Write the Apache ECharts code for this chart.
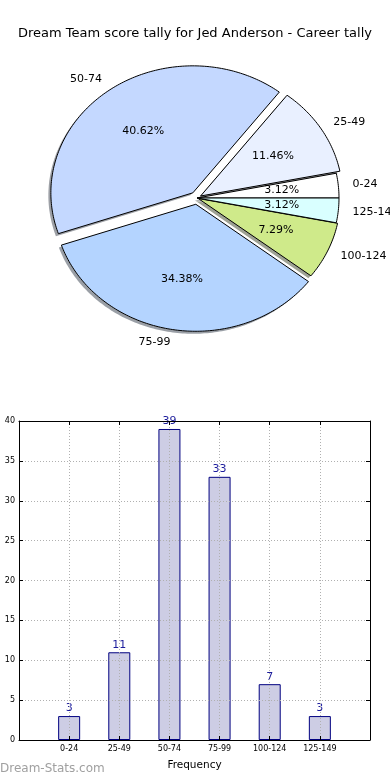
<!DOCTYPE html>
<html><head><meta charset="utf-8">
<script src="https://cdn.jsdelivr.net/npm/echarts@6/dist/echarts.min.js"></script>
<style>html,body{margin:0;padding:0;background:#fff}#c{width:390px;height:780px}</style>
</head><body><div id="c"></div>
<script>
const titleText = 'Dream Team score tally for Jed Anderson - Career tally';
const categories = ['0-24', '25-49', '50-74', '75-99', '100-124', '125-149'];
const counts = [3, 11, 39, 33, 7, 3];
const pieColors = ['#ffffff', '#e9f0ff', '#c4d8ff', '#b4d4ff', '#cfea8a', '#d9ffff'];
const explode = [0, 0.03, 0.05, 0.05, 0.01, 0];
const xAxisName = 'Frequency';
const watermark = 'Dream-Stats.com';

const FONT = 'DejaVu Sans';
const total = counts.reduce((a, b) => a + b, 0);
const cum = [0];
counts.forEach((v, i) => cum.push(cum[i] + v));

// pie layout (pixels)
const PC = [197, 198], RX = 142, RY = 127, PIE_H = 400;
const SH = [-2.5, 2.5];

function wedgePoints(api, i, shift) {
  const a0 = cum[i] / total * 2 * Math.PI, a1 = cum[i + 1] / total * 2 * Math.PI;
  const am = (a0 + a1) / 2;
  const cx = explode[i] * Math.cos(am), cy = explode[i] * Math.sin(am);
  const pts = [api.coord([cx, cy])];
  const n = Math.max(4, Math.ceil((a1 - a0) / (Math.PI / 180)));
  for (let k = 0; k <= n; k++) {
    const a = a0 + (a1 - a0) * k / n;
    pts.push(api.coord([cx + Math.cos(a), cy + Math.sin(a)]));
  }
  return shift ? pts.map(p => [p[0] + shift[0], p[1] + shift[1]]) : pts;
}

function hexShade(hex, f) {
  const n = parseInt(hex.slice(1), 16);
  const r = Math.round(((n >> 16) & 255) * f), g = Math.round(((n >> 8) & 255) * f), b = Math.round((n & 255) * f);
  return 'rgba(' + r + ',' + g + ',' + b + ',0.5)';
}

// percent with round-half-even (as printf does for exact ties)
function pctText(v) {
  const x = v * 10000 / total;
  const f = Math.floor(x), d = x - f;
  let r;
  if (Math.abs(d - 0.5) < 1e-9) r = (f % 2 === 0) ? f : f + 1;
  else r = Math.round(x);
  return (r / 100).toFixed(2) + '%';
}

const pieData = counts.map((v, i) => [i, v]);

const option = {
  animation: false,
  backgroundColor: '#fff',
  title: {
    text: titleText, left: 'center', top: 22,
    textStyle: { fontFamily: FONT, fontSize: 13, fontWeight: 'normal', color: '#000' }
  },
  graphic: [{
    type: 'text', left: 0, top: 763,
    style: { text: watermark, fontFamily: FONT, fontSize: 12, fill: '#a0a0a0', fontWeight: 'normal' }
  }],
  grid: [
    { left: 19, top: 421, width: 351, height: 319 },
    { left: 0, top: 0, width: 390, height: PIE_H }
  ],
  xAxis: [
    {
      gridIndex: 0, type: 'value', min: -1, max: 6, interval: 1, position: 'bottom', z: 3,
      axisLine: { show: true, onZero: false, lineStyle: { color: '#000', width: 1 } },
      axisTick: { show: true, inside: true, length: 4, lineStyle: { color: '#000' } },
      axisLabel: { formatter: v => categories[v] || '', fontFamily: FONT, fontSize: 8, color: '#000', margin: 5 },
      splitLine: { show: true, lineStyle: { color: '#b0b0b0', type: [1, 2], width: 1 } },
      name: xAxisName, nameLocation: 'middle', nameGap: 20,
      nameTextStyle: { fontFamily: FONT, fontSize: 10.5, color: '#000' }
    },
    {
      gridIndex: 0, type: 'value', min: -1, max: 6, interval: 1, position: 'top', z: 3,
      axisLine: { show: true, onZero: false, lineStyle: { color: '#000', width: 1 } },
      axisTick: { show: true, inside: true, length: 4, lineStyle: { color: '#000' } },
      axisLabel: { show: false }, splitLine: { show: false }
    },
    { gridIndex: 1, type: 'value', min: -PC[0] / RX, max: (390 - PC[0]) / RX, show: false }
  ],
  yAxis: [
    {
      gridIndex: 0, type: 'value', min: 0, max: 40, interval: 5, position: 'left', z: 3,
      axisLine: { show: true, onZero: false, lineStyle: { color: '#000', width: 1 } },
      axisTick: { show: true, inside: true, length: 4, lineStyle: { color: '#000' } },
      axisLabel: { fontFamily: FONT, fontSize: 8, color: '#000', margin: 4 },
      splitLine: { show: true, lineStyle: { color: '#b0b0b0', type: [1, 2], width: 1 } }
    },
    {
      gridIndex: 0, type: 'value', min: 0, max: 40, interval: 5, position: 'right', z: 3,
      axisLine: { show: true, onZero: false, lineStyle: { color: '#000', width: 1 } },
      axisTick: { show: true, inside: true, length: 4, lineStyle: { color: '#000' } },
      axisLabel: { show: false }, splitLine: { show: false }
    },
    { gridIndex: 1, type: 'value', min: -(PIE_H - PC[1]) / RY, max: PC[1] / RY, show: false }
  ],
  series: [
    {
      type: 'bar', xAxisIndex: 0, yAxisIndex: 0, barWidth: 22, z: 2,
      data: counts.map((v, i) => [i, v]),
      itemStyle: { color: '#cdcde4', borderColor: '#000080', borderWidth: 1 },
      label: { show: true, position: 'top', distance: 2, color: '#1c1c9c', fontFamily: FONT, fontSize: 11 }
    },
    {
      type: 'custom', xAxisIndex: 2, yAxisIndex: 2, clip: false, silent: true, z: 1,
      data: pieData,
      renderItem: (params, api) => ({
        type: 'polygon',
        shape: { points: wedgePoints(api, params.dataIndex, SH) },
        style: { fill: hexShade(pieColors[params.dataIndex], 0.3), stroke: null }
      })
    },
    {
      type: 'custom', xAxisIndex: 2, yAxisIndex: 2, clip: false, silent: true, z: 2,
      data: pieData,
      renderItem: (params, api) => ({
        type: 'polygon',
        shape: { points: wedgePoints(api, params.dataIndex, null) },
        style: { fill: pieColors[params.dataIndex], stroke: '#000', lineWidth: 1 }
      })
    },
    {
      type: 'custom', xAxisIndex: 2, yAxisIndex: 2, clip: false, silent: true, z: 3,
      data: pieData,
      renderItem: (params, api) => {
        const i = params.dataIndex;
        const am = (cum[i] + cum[i + 1]) / 2 / total * 2 * Math.PI;
        const c = Math.cos(am), s = Math.sin(am);
        const ex = explode[i] * c, ey = explode[i] * s;
        const lp = api.coord([ex + 1.1 * c, ey + 1.1 * s]);
        const pp = api.coord([ex + 0.6 * c, ey + 0.6 * s]);
        return {
          type: 'group', children: [
            { type: 'text', x: lp[0], y: lp[1], style: { text: categories[i], fontFamily: FONT, fontSize: 11, fill: '#000', align: c > 0 ? 'left' : 'right', verticalAlign: 'middle' } },
            { type: 'text', x: pp[0], y: pp[1], style: { text: pctText(api.value(1)), fontFamily: FONT, fontSize: 11, fill: '#000', align: 'center', verticalAlign: 'middle' } }
          ]
        };
      }
    }
  ]
};
const chart = echarts.init(document.getElementById('c'), null, { renderer: 'canvas' });
chart.setOption(option);
</script></body></html>
